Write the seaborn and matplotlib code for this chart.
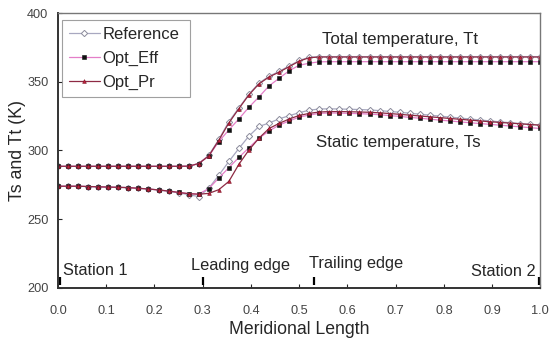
import numpy as np
import pandas as pd
import matplotlib
matplotlib.use("Agg")
import matplotlib.pyplot as plt
import seaborn as sns

# meridional stations (49 points along the passage)
meridional = np.linspace(0.0, 1.0, 49)

tt_reference = [288.5, 288.5, 288.5, 288.5, 288.5, 288.5, 288.5, 288.5, 288.5, 288.5,
                288.5, 288.5, 288.5, 288.6, 290.5, 296.5, 308.0, 321.0, 331.0, 341.0,
                349.0, 354.0, 357.5, 361.5, 365.5, 367.8, 368.3, 368.3, 368.3, 368.3,
                368.3, 368.3, 368.3, 368.3, 368.3, 368.3, 368.3, 368.3, 368.3, 368.3,
                368.3, 368.3, 368.3, 368.3, 368.3, 368.3, 368.3, 368.3, 368.3]
tt_opt_eff = [288.5, 288.5, 288.5, 288.5, 288.5, 288.5, 288.5, 288.5, 288.5, 288.5,
              288.5, 288.5, 288.5, 288.6, 290.5, 296.0, 306.5, 315.0, 323.0, 331.5,
              339.0, 347.0, 352.5, 358.0, 362.0, 363.5, 364.5, 364.6, 364.6, 364.6,
              364.6, 364.6, 364.6, 364.6, 364.6, 364.6, 364.6, 364.6, 364.6, 364.6,
              364.6, 364.6, 364.6, 364.6, 364.6, 364.6, 364.6, 364.6, 364.6]
tt_opt_pr = [288.5, 288.5, 288.5, 288.5, 288.5, 288.5, 288.5, 288.5, 288.5, 288.5,
             288.5, 288.5, 288.5, 288.6, 290.5, 296.0, 307.5, 320.0, 330.5, 340.5,
             348.5, 353.5, 357.0, 361.0, 365.0, 367.5, 368.0, 368.0, 368.0, 368.0,
             368.0, 368.0, 368.0, 368.0, 368.0, 368.0, 368.0, 368.0, 368.0, 368.0,
             368.0, 368.0, 368.0, 368.0, 368.0, 368.0, 368.0, 368.0, 368.0]

ts_reference = [274.0, 274.0, 274.0, 273.8, 273.6, 273.4, 273.2, 273.0, 272.5, 272.0,
                271.3, 270.3, 269.3, 267.8, 266.5, 272.5, 282.0, 292.0, 301.5, 310.5,
                317.5, 320.0, 323.0, 325.3, 327.5, 329.3, 330.2, 330.3, 330.2, 330.0,
                329.8, 329.5, 329.0, 328.4, 327.8, 327.1, 326.4, 325.7, 325.0, 324.3,
                323.6, 322.9, 322.2, 321.5, 320.8, 320.2, 319.6, 319.0, 318.5]
ts_opt_eff = [274.0, 274.0, 274.0, 273.8, 273.6, 273.4, 273.2, 273.0, 272.5, 272.0,
              271.3, 270.5, 269.5, 268.6, 268.3, 272.3, 280.0, 287.5, 295.0, 302.0,
              309.0, 314.2, 318.5, 321.5, 324.3, 325.8, 327.0, 327.3, 327.2, 327.0,
              326.8, 326.5, 326.0, 325.4, 324.8, 324.1, 323.5, 322.8, 322.1, 321.5,
              320.8, 320.2, 319.6, 319.0, 318.4, 317.8, 317.2, 316.6, 316.0]
ts_opt_pr = [274.0, 274.0, 274.0, 273.8, 273.6, 273.4, 273.2, 273.0, 272.5, 272.0,
             271.3, 270.5, 269.5, 268.6, 268.2, 268.8, 271.5, 277.5, 290.0, 300.4,
             309.0, 316.0, 319.7, 322.9, 325.5, 327.0, 328.0, 328.3, 328.3, 328.2,
             328.0, 327.8, 327.4, 326.9, 326.3, 325.7, 325.1, 324.5, 323.9, 323.3,
             322.7, 322.1, 321.5, 320.9, 320.4, 319.9, 319.4, 318.9, 318.4]

station_x = [0.005, 0.30, 0.53, 0.997]
station_labels = ["Station 1", "Leading edge", "Trailing edge", "Station 2"]

sns.set_style("white")
plt.rcParams['font.family'] = ['Liberation Sans', 'DejaVu Sans']

fig = plt.figure(figsize=(5.5, 3.38), dpi=100)
ax = fig.add_axes([0.1055, 0.148, 0.877, 0.8135])

cases = [
    ("Reference", tt_reference, ts_reference,
     dict(color="#a8a8c0", marker="D", markersize=3.2, markerfacecolor="white",
          markeredgecolor="#8c8c9c", markeredgewidth=0.7)),
    ("Opt_Eff", tt_opt_eff, ts_opt_eff,
     dict(color="#e47ec8", marker="s", markersize=2.2, markerfacecolor="#111111",
          markeredgecolor="#111111", markeredgewidth=0.4)),
    ("Opt_Pr", tt_opt_pr, ts_opt_pr,
     dict(color="#8e2a44", marker="^", markersize=2.7, markerfacecolor="#c0203c",
          markeredgecolor="#7a1426", markeredgewidth=0.4)),
]

for name, tt, ts, style in cases:
    sns.lineplot(x=meridional, y=tt, ax=ax, label=name, linewidth=0.9, **style)
    sns.lineplot(x=meridional, y=ts, ax=ax, linewidth=0.9, **style)

# station markers along the bottom
ax.vlines(station_x, 202, 208, color="black", linewidth=1.6)
ax.text(0.011, 213, station_labels[0], fontsize=11.8, va="center", ha="left")
ax.text(0.276, 216.7, station_labels[1], fontsize=11.8, va="center", ha="left")
ax.text(0.52, 218, station_labels[2], fontsize=11.8, va="center", ha="left")
ax.text(0.99, 212, station_labels[3], fontsize=11.8, va="center", ha="right")

ax.text(0.708, 381, "Total temperature, Tt", fontsize=12.2, ha="center", va="center")
ax.text(0.705, 305.5, "Static temperature, Ts", fontsize=12.2, ha="center", va="center")

ax.set_xlim(0.0, 1.0)
ax.set_ylim(200, 400)
ax.set_xticks(np.arange(0, 1.01, 0.1))
ax.set_xticklabels([f"{v:.1f}" for v in np.arange(0, 1.01, 0.1)])
ax.set_yticks([200, 250, 300, 350, 400])
ax.tick_params(axis="both", direction="in", length=3, width=0.8, labelsize=9.2,
               labelcolor="#444444", bottom=True, left=True)
ax.tick_params(axis="x", pad=12)
ax.tick_params(axis="y", pad=7)
ax.set_xlabel("Meridional Length", fontsize=12.7, labelpad=3)
ax.set_ylabel("Ts and Tt (K)", fontsize=12.8, labelpad=1)

for side in ["left", "bottom"]:
    ax.spines[side].set_color("#333333")
    ax.spines[side].set_linewidth(1.4)
for side in ["top", "right"]:
    ax.spines[side].set_color("#777777")
    ax.spines[side].set_linewidth(1.0)

leg = ax.legend(loc="upper left", bbox_to_anchor=(0.008, 0.975, 0.265, 0.0),
                mode="expand", fontsize=12, frameon=True, fancybox=False,
                handlelength=1.9, handletextpad=0.15, labelspacing=0.55,
                borderpad=0.4, borderaxespad=0.0)
leg.get_frame().set_edgecolor("#888888")
leg.get_frame().set_linewidth(0.8)

fig.savefig("out.png", dpi=100)
